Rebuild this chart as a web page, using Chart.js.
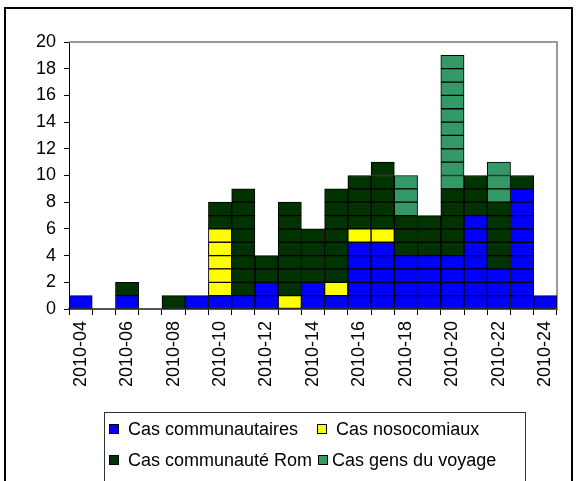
<!DOCTYPE html>
<html>
<head>
<meta charset="utf-8">
<script src="https://cdn.jsdelivr.net/npm/chart.js@4/dist/chart.umd.min.js"></script>
<style>
  body { margin: 0; background: #fff; font-family: "Liberation Sans", Arial, sans-serif; }
  #wrap { position: relative; width: 579px; height: 481px; overflow: hidden; }
  #legend { position: absolute; left: 104px; top: 412px; width: 420px; height: 100px; border: 1px solid #333; font-size: 18px; color: #000; }
  .row { position: absolute; left: 4px; white-space: nowrap; }
  .mk { display: inline-block; width: 8px; height: 8px; border: 1px solid #000; vertical-align: middle; margin-top: -3px; }
</style>
</head>
<body>
<div id="wrap">
  <canvas id="canvas" width="579" height="481"></canvas>
  <div id="legend"></div>
</div>
<script>
var weeks = ["2010-04", "2010-05", "2010-06", "2010-07", "2010-08", "2010-09", "2010-10",
  "2010-11", "2010-12", "2010-13", "2010-14", "2010-15", "2010-16", "2010-17",
  "2010-18", "2010-19", "2010-20", "2010-21", "2010-22", "2010-23", "2010-24"];

var communautaires = [1, 0, 1, 0, 0, 1, 1, 1, 2, 0, 2, 1, 5, 5, 4, 4, 4, 7, 3, 9, 1];
var nosocomiaux    = [0, 0, 0, 0, 0, 0, 5, 0, 0, 1, 0, 1, 1, 1, 0, 0, 0, 0, 0, 0, 0];
var rom            = [0, 0, 1, 0, 1, 0, 2, 8, 2, 7, 4, 7, 4, 5, 3, 3, 5, 3, 5, 1, 0];
var voyage         = [0, 0, 0, 0, 0, 0, 0, 0, 0, 0, 0, 0, 0, 0, 3, 0, 10, 0, 3, 0, 0];

var yTicks = [0, 2, 4, 6, 8, 10, 12, 14, 16, 18, 20];

var series = [
  { name: "Cas communautaires", values: communautaires, color: "#0000ff" },
  { name: "Cas nosocomiaux", values: nosocomiaux, color: "#ffff00" },
  { name: "Cas communauté Rom", values: rom, color: "#003300" },
  { name: "Cas gens du voyage", values: voyage, color: "#339966" }
];

// every case is drawn as its own cell, so each series is split in unit layers
var datasets = [];
series.forEach(function (s) {
  var maxVal = Math.max.apply(null, s.values);
  for (var k = 1; k <= maxVal; k++) {
    datasets.push({
      label: s.name,
      data: s.values.map(function (v) { return v >= k ? 1 : null; }),
      backgroundColor: s.color,
      borderColor: "#000",
      borderWidth: 1,
      borderSkipped: false,
      barPercentage: 1,
      categoryPercentage: 1,
      stack: "cas"
    });
  }
});

var frame = {
  id: "frame",
  beforeDraw: function (chart) {
    var c = chart.ctx;
    c.save();
    c.strokeStyle = "#000";
    c.lineWidth = 2;
    c.strokeRect(5, 8, 567, 600);
    c.restore();
  },
  beforeDatasetsDraw: function (chart) {
    var a = chart.chartArea;
    var c = chart.ctx;
    c.save();
    c.strokeStyle = "#999";
    c.lineWidth = 2;
    c.beginPath();
    c.moveTo(a.left, a.top);
    c.lineTo(a.right, a.top);
    c.lineTo(a.right, a.bottom);
    c.stroke();
    c.restore();
  }
};

Chart.defaults.font.family = "'Liberation Sans', Arial, sans-serif";
Chart.defaults.font.size = 18;
Chart.defaults.color = "#000";

new Chart(document.getElementById("canvas"), {
  type: "bar",
  data: { labels: weeks, datasets: datasets },
  options: {
    responsive: false,
    animation: false,
    layout: { padding: { left: 0, right: 22, top: 42, bottom: 72 } },
    plugins: {
      legend: { display: false },
      tooltip: { enabled: false }
    },
    scales: {
      x: {
        stacked: true,
        afterFit: function (scale) { scale.height = 100; },
        grid: { drawOnChartArea: false, color: "#000", tickLength: 6, offset: true },
        border: { color: "#555", width: 2 },
        ticks: {
          autoSkip: false,
          maxRotation: 90,
          minRotation: 90,
          padding: 6,
          callback: function (v, i) { return i % 2 === 0 ? weeks[i] : ""; }
        }
      },
      y: {
        stacked: true,
        min: 0,
        max: 20,
        afterFit: function (scale) { scale.width = 69; },
        afterBuildTicks: function (scale) {
          scale.ticks = yTicks.map(function (v) { return { value: v }; });
        },
        grid: { drawOnChartArea: false, color: "#000", tickLength: 5 },
        border: { color: "#000", width: 1 },
        ticks: { padding: 8 }
      }
    }
  },
  plugins: [frame]
});

// legend, laid out like the original two rows
var rows = [
  [[0, 9, 0], [1, 9, 19]],
  [[2, 9, 0], [3, 4, 6]]
];
var legend = document.getElementById("legend");
rows.forEach(function (r, ri) {
  var div = document.createElement("div");
  div.className = "row";
  div.style.top = (6 + ri * 31) + "px";
  r.forEach(function (it) {
    var s = series[it[0]];
    var mk = document.createElement("span");
    mk.className = "mk";
    mk.style.background = s.color;
    mk.style.marginLeft = it[2] + "px";
    var tx = document.createElement("span");
    tx.textContent = s.name;
    tx.style.marginLeft = it[1] + "px";
    div.appendChild(mk);
    div.appendChild(tx);
  });
  legend.appendChild(div);
});
</script>
</body>
</html>
